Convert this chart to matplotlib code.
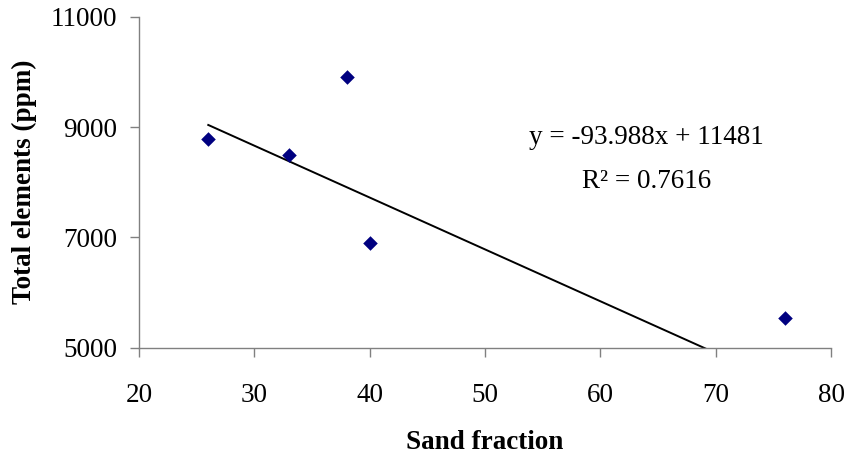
import matplotlib
matplotlib.use("Agg")
import matplotlib.pyplot as plt
import numpy as np

sand_fraction = [26, 33, 38, 40, 76]
total_elements = [8780, 8490, 9910, 6900, 5540]
slope = -93.988
intercept = 11481
r_squared = 0.7616
x_ticks = [20, 30, 40, 50, 60, 70, 80]
y_ticks = [5000, 7000, 9000, 11000]

plt.rcParams['font.family'] = ['Liberation Serif', 'DejaVu Serif']

fig = plt.figure(figsize=(8.48, 4.62), dpi=100)
ax = fig.add_axes([0.164, 0.2474, 0.816, 0.7165])

ax.scatter(sand_fraction, total_elements, marker='D', s=55, color='#000080', zorder=3, linewidths=0)
xt = np.array([min(sand_fraction), max(sand_fraction)])
ax.plot(xt, slope * xt + intercept, color='black', lw=1.4, zorder=2)

ax.set_xlim(20, 80)
ax.set_ylim(5000, 11000)
ax.set_xticks(x_ticks)
ax.set_yticks(y_ticks)
ax.tick_params(axis='both', direction='out', length=6.5, width=1, color='#808080', labelsize=19.5)
ax.tick_params(axis='x', pad=19)
ax.tick_params(axis='y', pad=9)
for s in ['top', 'right']:
    ax.spines[s].set_visible(False)
for s in ['left', 'bottom']:
    ax.spines[s].set_color('#808080')
    ax.spines[s].set_linewidth(1)

ax.set_xlabel('Sand fraction', fontsize=19.5, fontweight='bold', va='center')
ax.set_ylabel('Total elements (ppm)', fontsize=19.5, fontweight='bold', va='center')
ax.xaxis.set_label_coords(0.5, -0.285)
ax.yaxis.set_label_coords(-0.166, 0.5)

ax.text(64.0, 8801, 'y = -93.988x + 11481', fontsize=19.5, ha='center', va='center')
ax.text(64.0, 8004, 'R\u00b2 = %.4f' % r_squared, fontsize=19.5, ha='center', va='center')

fig.savefig('out.png', dpi=100)
